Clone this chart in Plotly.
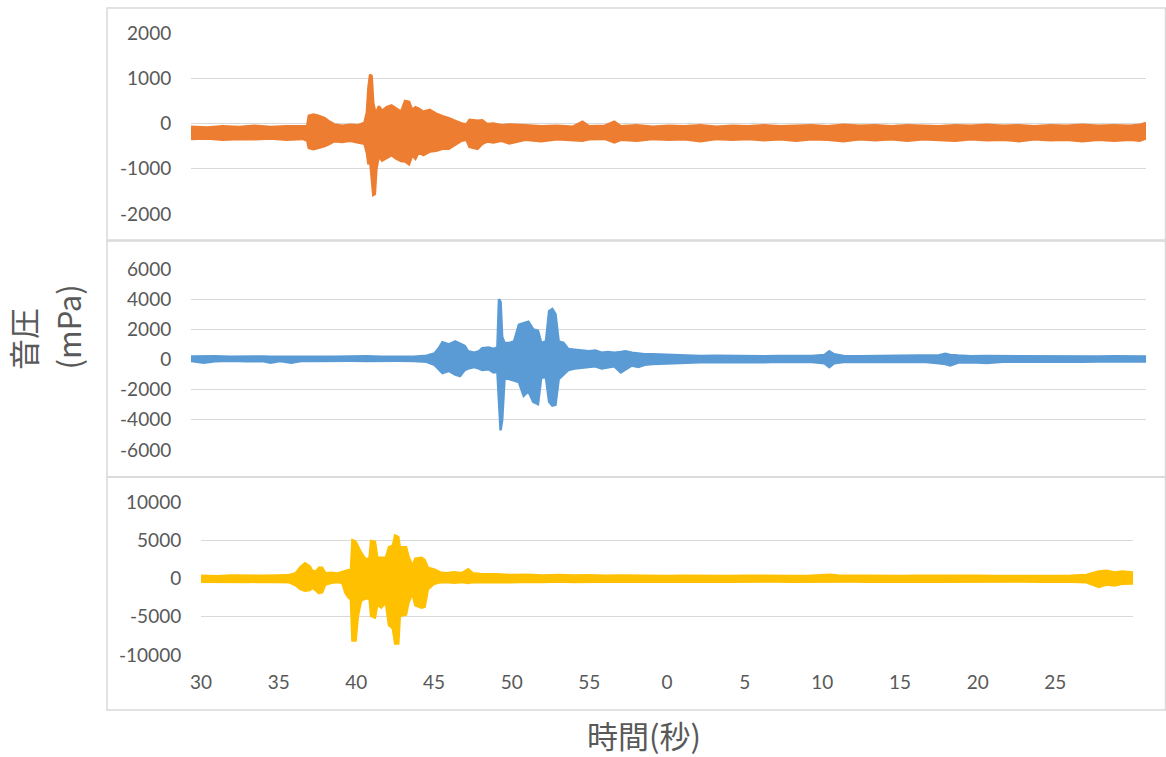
import plotly.graph_objects as go

W, H = 1166, 757

# ---------------- data ----------------
# Panel 1 (orange): time [s], upper / lower extent of the trace [mPa]
t1 = [30, 31, 32, 33, 34, 35, 36, 37, 37.3, 37.4, 37.7, 38.0, 38.4, 38.7, 39.0, 39.5, 40.0, 40.5, 40.9,
      41.05, 41.15, 41.25, 41.35, 41.45, 41.55, 41.65, 41.8, 42.0, 42.3, 42.6, 42.9, 43.2, 43.45, 43.7,
      43.9, 44.1, 44.3, 44.6, 45.0, 45.4, 45.8, 46.2, 46.6, 47.0, 47.3, 47.5, 48.0, 48.3, 48.6, 49.0,
      49.5, 50.0, 51, 52, 53, 54, 54.6, 55, 56, 56.6, 57, 58, 59, 60, 61, 62, 63, 64, 65, 66, 67, 68,
      69, 70, 71, 72, 73, 74, 75, 76, 77, 78, 79, 80, 81, 82, 83, 84, 85, 86, 87, 88, 89, 89.6, 90]
hi1 = [-70, -90, -60, -80, -50, -80, -60, -70, -60, 170, 200, 170, 120, 40, -20, -50, -30, -40, 20,
       250, 800, 1080, 1050, 450, 300, 250, 380, 280, 360, 400, 330, 260, 500, 480,
       300, 360, 330, 260, 300, 220, 160, 120, 60, 0, -20, 80, 60, 70, -10, 0,
       -40, -20, -40, -60, -50, -70, 40, -60, -50, 40, -60, -40, -70, -50, -60, -40, -70, -50, -60, -40, -60, -50,
       -40, -60, -30, -50, -40, -60, -40, -50, -60, -40, -50, -30, -50, -40, -60, -40, -50, -30, -50, -40, -50, -30, 10]
lo1 = [-340, -330, -360, -340, -350, -330, -360, -340, -380, -540, -570, -540, -500, -450, -390, -410, -380, -420, -450,
       -650, -900, -800, -1300, -1580, -1560, -1000, -720, -820, -760, -700, -780, -830, -840, -900,
       -700, -780, -640, -700, -620, -600, -560, -560, -470, -380, -360, -520, -560, -450, -400, -420,
       -380, -440, -360, -390, -350, -360, -380, -350, -340, -420, -360, -380, -340, -360, -350, -390, -340, -360, -340, -370, -350, -380,
       -350, -360, -390, -350, -370, -350, -380, -350, -360, -380, -350, -370, -360, -390, -350, -370, -360, -390, -360, -380, -360, -380, -330]

# Panel 2 (blue)
t2 = [30, 30.8, 31.5, 32.5, 33.5, 34.5, 35.0, 35.6, 36.3, 37.0, 38.0, 39.0, 40.0, 41.0, 42.0, 43.0, 44.0, 44.8,
      45.3, 45.6, 45.8, 46.2, 46.6, 46.9, 47.2, 47.4, 47.8, 48.1, 48.3, 48.7, 49.0, 49.25, 49.35, 49.45,
      49.55, 49.7, 50.0, 50.3, 50.6, 50.9, 51.2, 51.5, 51.8, 52.0, 52.3, 52.5, 52.7, 52.9, 53.1, 53.4,
      53.7, 54.1, 54.5, 55.0, 55.4, 55.8, 56.2, 56.6, 57.0, 57.3, 57.7, 58.1, 58.5, 59.0, 60.0, 61, 62,
      63, 64, 65, 66, 67, 68, 69, 69.8, 70.1, 70.4, 71, 72, 73, 74, 75, 76, 77.0, 77.4, 77.7, 78.2, 79,
      80, 81, 82, 83, 84, 85, 86, 87, 88, 89, 90]
hi2 = [200, 180, 210, 190, 220, 200, 180, 190, 200, 180, 190, 180, 190, 220, 180, 190, 180, 250,
       400, 800, 1150, 1000, 1200, 1050, 900, 550, 450, 550, 750, 800, 700, 800, 4000, 3800,
       1500, 1100, 1100, 1200, 2300, 2400, 2500, 2000, 1900, 1100, 1200, 3200, 3350, 3000, 1200, 1100,
       700, 650, 600, 550, 600, 450, 500, 450, 500, 550, 450, 400, 350, 350, 300, 260, 240,
       250, 230, 240, 220, 230, 220, 230, 300, 550, 350, 230, 220, 230, 220, 240, 230, 280, 380, 300, 260, 220,
       230, 220, 210, 230, 220, 230, 220, 200, 210, 220, 200]
lo2 = [-100, -220, -110, -90, -120, -100, -220, -100, -220, -90, -100, -80, -90, -100, -80, -90, -100, -150,
       -350, -700, -900, -750, -1000, -1100, -700, -600, -500, -600, -700, -650, -850, -800, -3000, -4700,
       -4000, -1200, -1300, -1400, -1500, -2400, -2100, -2800, -2950, -1200, -1200, -2800, -3050, -3000, -1300, -1000,
       -700, -600, -550, -500, -450, -600, -500, -450, -850, -650, -400, -500, -350, -300, -250, -200, -190,
       -170, -190, -160, -180, -150, -170, -160, -250, -500, -250, -160, -170, -150, -160, -170, -150, -250, -300, -400, -200, -180,
       -240, -150, -160, -140, -150, -180, -150, -140, -150, -140, -130]

# Panel 3 (gold)
t3 = [30, 31, 32, 33, 34, 35, 35.7, 36.1, 36.4, 36.7, 37.0, 37.2, 37.45, 37.6, 37.8, 38.0, 38.4, 38.8,
      39.1, 39.3, 39.5, 39.65, 39.75, 39.95, 40.1, 40.3, 40.6, 40.85, 40.95, 41.2, 41.35, 41.6, 41.9,
      42.1, 42.35, 42.5, 42.7, 42.8, 43.2, 43.35, 43.6, 43.8, 44.2, 44.4, 44.6, 45.0, 45.4, 45.8, 46.3,
      46.8, 47.2, 47.5, 48, 49, 50, 51, 52, 53, 54, 55, 56, 57, 58, 59, 60, 61, 62, 63, 64, 65, 66, 67,
      68, 69, 70, 70.5, 71, 72, 73, 74, 75, 76, 77, 78, 79, 80, 81, 82, 83, 84, 85, 86, 87, 87.4, 87.8,
      88.3, 88.8, 89.3, 90]
hi3 = [350, 300, 380, 320, 350, 400, 450, 700, 1500, 2000, 1600, 900, 1000, 1400, 1400, 700, 750, 650,
       850, 1000, 1100, 1000, 5000, 4800, 4200, 3400, 2500, 2700, 4900, 4800, 2700, 2700, 2700,
       4100, 4300, 5600, 5400, 4100, 4100, 2900, 1600, 2600, 2700, 2400, 1400, 1200, 800, 700, 800,
       700, 1200, 700, 600, 550, 450, 500, 400, 450, 380, 420, 350, 400, 350, 380, 330, 360, 320, 350, 330, 360, 320, 350,
       330, 340, 420, 500, 380, 350, 330, 360, 320, 350, 370, 340, 330, 360, 340, 320, 350, 330, 340, 360, 450, 700, 900,
       1000, 800, 900, 800]
lo3 = [-420, -450, -400, -460, -420, -450, -500, -900, -1400, -1600, -1500, -1200, -1700, -1900, -1800, -800, -550, -450,
       -600, -1900, -2500, -2700, -8100, -8100, -4900, -2900, -2600, -2600, -4900, -5100, -3400, -3800, -3100,
       -6100, -6500, -8500, -8500, -4900, -4700, -3200, -1900, -3500, -3800, -3700, -1400, -700, -500, -450, -550,
       -450, -600, -450, -500, -450, -500, -420, -460, -400, -450, -400, -430, -380, -420, -400, -420, -380, -400, -380, -420, -390, -400, -380,
       -410, -390, -450, -430, -420, -400, -420, -390, -400, -380, -420, -400, -390, -420, -380, -400, -390, -410, -380, -420, -500, -800, -1100,
       -800, -900, -700, -650]

x_tickvals = [30, 35, 40, 45, 50, 55, 60, 65, 70, 75, 80, 85]
x_ticktext = ["30", "35", "40", "45", "50", "55", "0", "5", "10", "15", "20", "25"]
y1_ticks = [-2000, -1000, 0, 1000, 2000]
y1_text = ["-2000", "-1000", "0", "1000", "2000"]
y2_ticks = [-6000, -4000, -2000, 0, 2000, 4000, 6000]
y2_text = ["-6000", "-4000", "-2000", "0", "2000", "4000", "6000"]
y3_ticks = [-10000, -5000, 0, 5000, 10000]
y3_text = ["-10000", "-5000", "0", "5000", "10000"]

colors = ["#ED7D31", "#5B9BD5", "#FFC000"]

# ---------------- figure ----------------
def px(x):
    return x / W

def py(y):
    return 1 - y / H

fig = go.Figure()

series = [(t1, hi1, lo1, "x", "y"), (t2, hi2, lo2, "x2", "y2"), (t3, hi3, lo3, "x3", "y3")]
for (t, hi, lo, xa, ya), c in zip(series, colors):
    fig.add_trace(go.Scatter(x=t, y=lo, mode="lines", line=dict(color=c, width=2.5),
                             xaxis=xa, yaxis=ya, showlegend=False, hoverinfo="skip"))
    fig.add_trace(go.Scatter(x=t, y=hi, mode="lines", line=dict(color=c, width=2.5),
                             fill="tonexty", fillcolor=c,
                             xaxis=xa, yaxis=ya, showlegend=False, hoverinfo="skip"))

tick_font = dict(family="Lato, 'Open Sans', sans-serif", size=19, color="#595959")
grid = "#D9D9D9"

def yax(dom, rng, tv, tt):
    return dict(domain=dom, range=rng, tickvals=tv, ticktext=tt, showgrid=True, gridcolor=grid, gridwidth=1,
                zeroline=True, zerolinecolor=grid, zerolinewidth=1, showline=False,
                ticks="outside", ticklen=15, tickcolor="rgba(0,0,0,0)", tickfont=tick_font,
                fixedrange=True, automargin=False)

def xax(dom, anchor, labels):
    d = dict(domain=dom, range=[30, 90], anchor=anchor, showgrid=False, zeroline=False, showline=False,
             fixedrange=True, automargin=False)
    if labels:
        d.update(tickvals=x_tickvals, ticktext=x_ticktext, tickfont=tick_font, ticks="outside",
                 ticklen=10, tickcolor="rgba(0,0,0,0)")
    else:
        d.update(showticklabels=False, ticks="")
    return d

xd12 = [px(191), px(1146)]
xd3 = [px(201), px(1133)]

fig.update_layout(
    width=W, height=H, margin=dict(l=0, r=0, t=0, b=0, pad=0, autoexpand=False),
    paper_bgcolor="white", plot_bgcolor="white",
    xaxis=xax(xd12, "y", False),
    xaxis2=xax(xd12, "y2", False),
    xaxis3=xax(xd3, "y3", True),
    yaxis=dict(yax([py(214), py(33)], [-2000, 2000], y1_ticks, y1_text), anchor="x"),
    yaxis2=dict(yax([py(450), py(269)], [-6000, 6000], y2_ticks, y2_text), anchor="x2"),
    yaxis3=dict(yax([py(655), py(502)], [-10000, 10000], y3_ticks, y3_text), anchor="x3"),
)

# panel frames
for top, bot in [(8, 240), (241, 477), (477, 710)]:
    fig.add_shape(type="rect", xref="paper", yref="paper", x0=px(107), x1=px(1165.5),
                  y0=py(bot), y1=py(top), line=dict(color="#D9D9D9", width=1.5), layer="below")

title_font = dict(family="'Noto Sans CJK JP', sans-serif", size=31, color="#595959")
fig.add_annotation(text="時間(秒)", xref="paper", yref="paper", x=px(644), y=py(734),
                   xanchor="center", yanchor="middle", showarrow=False, font=title_font)
fig.add_annotation(text="音圧", xref="paper", yref="paper", x=px(22), y=py(372),
                   xanchor="center", yanchor="bottom", textangle=-90, showarrow=False, font=title_font)
fig.add_annotation(text="(mPa)", xref="paper", yref="paper", x=px(67), y=py(372),
                   xanchor="center", yanchor="bottom", textangle=-90, showarrow=False, font=title_font)

fig.write_html("out.html", config={"displayModeBar": False},
               post_script="document.body.style.margin='0';document.body.style.padding='0';"
                           "document.documentElement.style.overflow='hidden';")
